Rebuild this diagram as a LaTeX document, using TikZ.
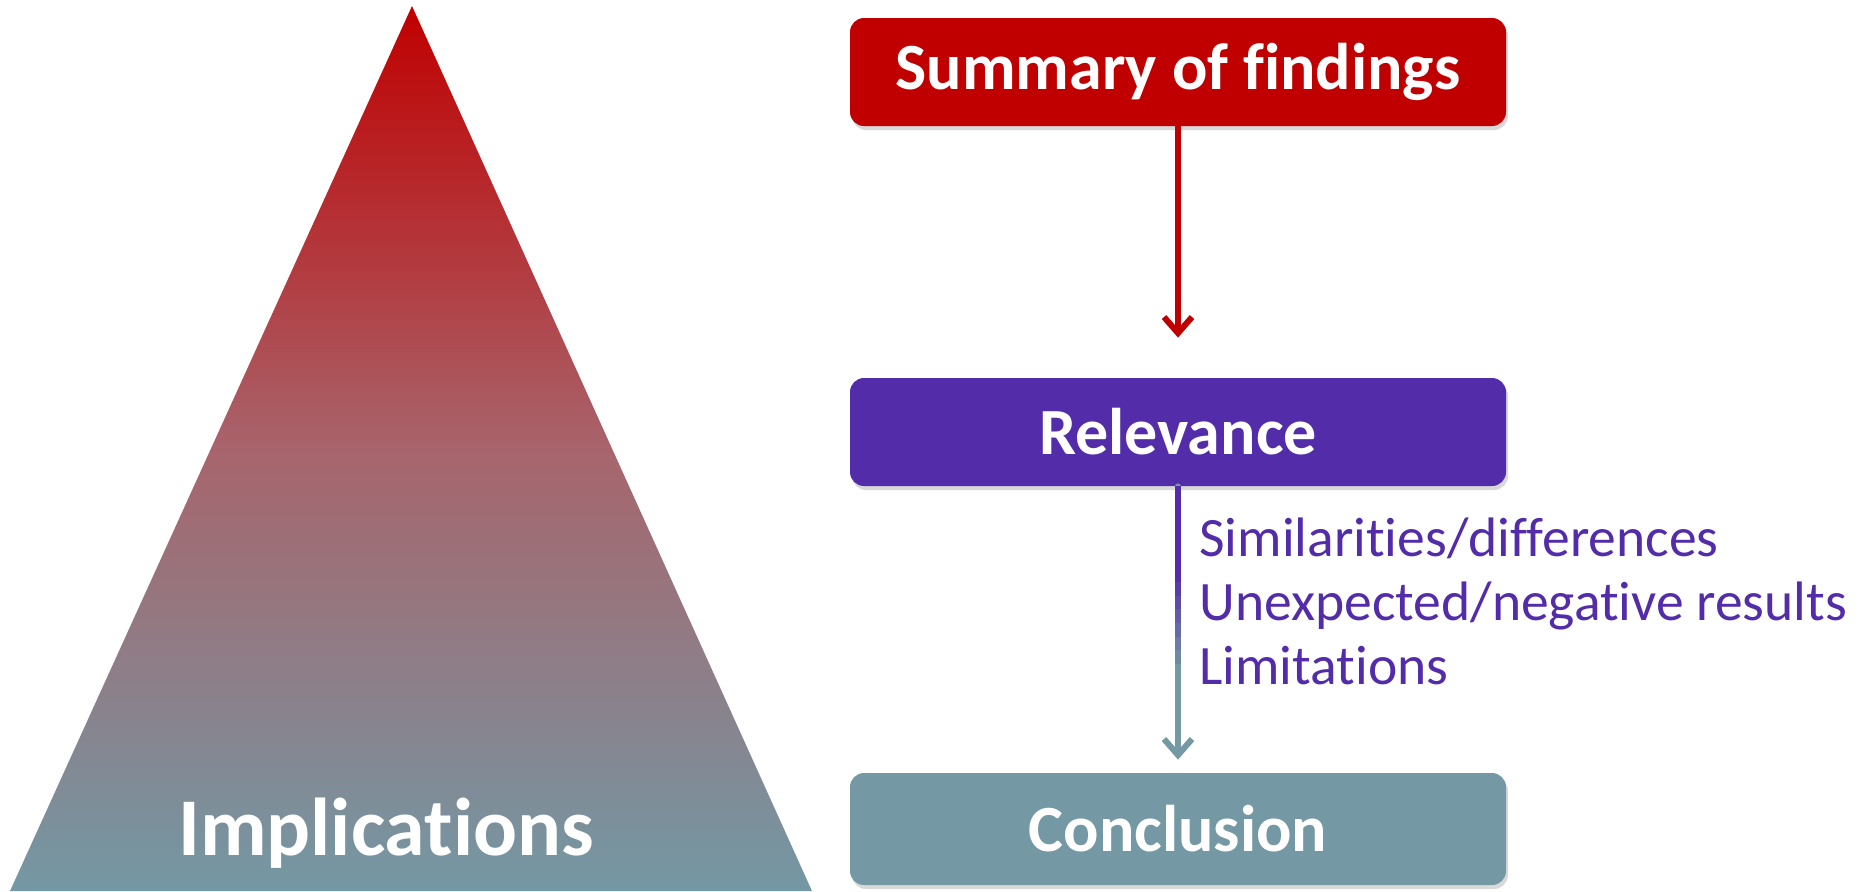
\documentclass[tikz,border=0pt]{standalone}
\usepackage{fontspec}
\setmainfont{Carlito}[Ligatures=NoCommon]
\usepackage{xcolor}
\usetikzlibrary{arrows.meta,shadows,calc}
\definecolor{findred}{HTML}{C00000}
\definecolor{relpurple}{HTML}{532CAA}
\definecolor{conclteal}{HTML}{7498A4}
\definecolor{midmauve}{HTML}{A8646C}

\begin{document}
\begin{tikzpicture}[x=0.5pt,y=-0.5pt,line cap=round,line join=round,>={Straight Barb[length=8pt,width=14pt]},
  box/.style={rounded corners=7pt,inner sep=0pt,minimum width=328pt,minimum height=54pt,text=white,font=\bfseries\fontsize{33}{40}\selectfont,drop shadow={opacity=0.3,shadow xshift=1pt,shadow yshift=-2pt}},
  sidetext/.style={anchor=base west,inner sep=0pt,text=relpurple,font=\fontsize{27.8}{32}\selectfont}]
\useasboundingbox (0,0) rectangle (1862,891);
\shade[top color=findred,bottom color=conclteal,middle color=midmauve] (412,6) -- (812,891) -- (10,891) -- cycle;
\node[inner sep=0pt,text=white,font=\bfseries\fontsize{41}{48}\selectfont] (impl) at (386,833) {Implications};
\node[box,fill=findred] (summary) at (1178,72) {Summary of findings};
\node[box,fill=relpurple] (relevance) at (1178,432) {Relevance};
\node[box,fill=conclteal,minimum height=56pt] (conclusion) at (1178,829) {Conclusion};
\draw[->,findred,line width=3pt] (summary.south) -- ([yshift=20pt]relevance.north);
\coordinate (tip) at ([yshift=6.5pt]conclusion.north);
\draw[->,conclteal,line width=3pt] (relevance.south) -- (tip);
\foreach \i in {0,...,13}{
  \pgfmathtruncatemacro{\mix}{min(100,max(0,(0.65-\i/20)/0.35*100))}
  \draw[relpurple!\mix!conclteal,line width=3pt,line cap=butt] ($(relevance.south)!\i/20!(tip)$) -- ($(relevance.south)!\i/20+0.051!(tip)$);
}
\node[sidetext] (sim) at (1199,556) {Similarities/differences};
\node[sidetext] (unexp) at (1199,620) {Unexpected/negative results};
\node[sidetext] (limit) at (1199,684) {Limitations};
\end{tikzpicture}
\end{document}
